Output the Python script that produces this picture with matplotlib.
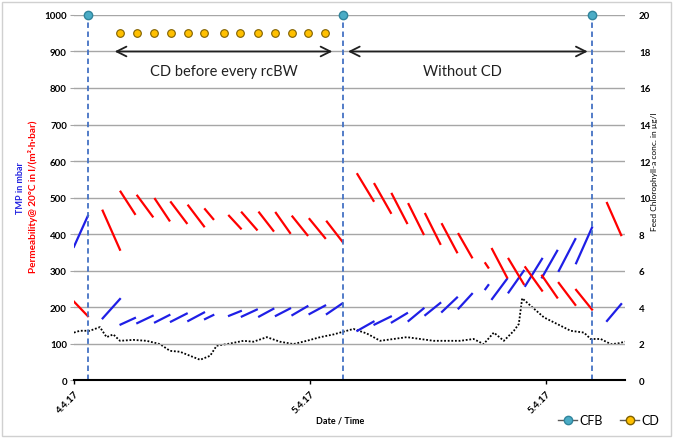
import matplotlib
matplotlib.use("Agg")
import matplotlib.pyplot as plt
from matplotlib.lines import Line2D
from matplotlib.patches import Rectangle

plt.rcParams['font.family'] = ['Lato', 'DejaVu Sans']

# filtration cycles: hours since 4.4.17 00:00, TMP (mbar), permeability
cyc_start = [0.0, 1.46, 2.37, 3.22, 4.12, 4.93, 5.81, 6.66, 7.88, 8.53, 9.41, 10.26, 11.10, 11.97, 12.85,
             14.40, 15.27, 16.15, 17.00, 17.85, 18.70, 19.54, 20.90, 21.24, 22.08, 22.93, 23.78, 24.63, 25.51,
             27.08]
cyc_end = [0.71, 2.34, 3.10, 4.00, 4.85, 5.73, 6.61, 7.08, 8.48, 9.29, 10.13, 10.98, 11.86, 12.76, 13.64,
           15.22, 16.10, 16.92, 17.76, 18.61, 19.46, 20.22, 21.05, 22.00, 22.85, 23.78, 24.55, 25.47, 26.32,
           27.80]
tmp_start = [365, 169, 152, 156, 158, 160, 162, 167, 176, 174, 174, 176, 178, 181, 181,
             135, 152, 158, 162, 178, 187, 196, 249, 222, 240, 258, 281, 299, 320,
             162]
tmp_end = [450, 222, 170, 176, 178, 182, 185, 178, 189, 193, 195, 196, 202, 204, 210,
           160, 174, 183, 196, 211, 226, 236, 260, 277, 299, 332, 354, 386, 418,
           208]
perm_start = [215, 464, 516, 505, 496, 487, 478, 468, 450, 459, 459, 458, 448, 441, 434,
              564, 537, 510, 482, 455, 427, 400, 320, 359, 332, 309, 286, 266, 247,
              485]
perm_end = [175, 357, 455, 448, 437, 430, 421, 441, 415, 412, 409, 403, 397, 389, 379,
            491, 458, 430, 400, 373, 350, 336, 308, 281, 263, 245, 226, 206, 193,
            397]

# feed chlorophyll-a (ug/l)
chl_t = [0.0, 0.31, 0.81, 1.32, 1.66, 2.0, 2.34, 3.02, 3.69, 4.37, 4.88, 5.39, 5.9, 6.41, 6.92, 7.25,
         7.93, 8.61, 9.12, 9.8, 10.47, 11.15, 11.83, 12.51, 13.19, 13.52, 14.2, 14.88, 15.56, 16.24,
         16.91, 17.59, 18.27, 18.95, 19.63, 20.3, 20.81, 21.33, 21.84, 22.35, 22.6, 22.77, 23.2, 23.88,
         24.55, 25.23, 25.91, 26.25, 26.76, 27.27, 27.61, 28.0]
chl_v = [2.6, 2.7, 2.7, 2.9, 2.35, 2.5, 2.15, 2.2, 2.15, 1.97, 1.6, 1.55, 1.33, 1.11, 1.33, 1.88,
         2.0, 2.15, 2.1, 2.35, 2.1, 1.97, 2.15, 2.35, 2.5, 2.6, 2.8, 2.55, 2.15, 2.25,
         2.35, 2.25, 2.15, 2.15, 2.15, 2.25, 1.97, 2.6, 2.15, 2.7, 3.07, 4.48, 4.07, 3.43,
         3.07, 2.7, 2.6, 2.25, 2.25, 1.97, 2.0, 2.1]

cfb_t = [0.71, 13.68, 26.34]
cd_t = [2.34, 3.22, 4.08, 4.93, 5.78, 6.63, 7.61, 8.46, 9.34, 10.22, 11.07, 11.91, 12.76]

tick_pos = [0, 12, 24]
tick_lab = ['4.4.17', '5.4.17', '5.4.17']

fig = plt.figure(figsize=(6.78, 4.39), dpi=100)
fig.patches.append(Rectangle((0.003, 0.004), 0.987, 0.99, transform=fig.transFigure,
                             fill=False, edgecolor='#D0D0D0', lw=1))
ax = fig.add_axes([0.109, 0.132, 0.813, 0.8316])
ax2 = ax.twinx()
ax.set_zorder(ax2.get_zorder() + 1)
ax.patch.set_visible(False)

ax.set_xlim(0, 28.0)
ax.set_ylim(0, 1000)
ax2.set_ylim(0, 20)
ax.set_yticks(range(0, 1001, 100))
ax2.set_yticks(range(0, 21, 2))
ax.grid(axis='y', color='#A6A6A6', lw=1)
ax.set_axisbelow(True)

for s in ['top', 'left', 'right']:
    ax.spines[s].set_visible(False)
    ax2.spines[s].set_visible(False)
ax2.spines['bottom'].set_visible(False)
ax.spines['bottom'].set_linewidth(1.5)

ax.tick_params(axis='y', length=3, color='#A6A6A6', labelsize=7, pad=2)
ax2.tick_params(axis='y', length=0, labelsize=7, pad=10)
for lab in ax.get_yticklabels() + ax2.get_yticklabels():
    lab.set_fontweight('bold')

ax.set_xticks(tick_pos)
ax.set_xticklabels(tick_lab, rotation=45, ha='right', rotation_mode='anchor',
                   fontsize=7, fontweight='bold')
ax.tick_params(axis='x', length=3, width=1, pad=3)

# chlorophyll
ax2.plot(chl_t, chl_v, color='black', lw=1.3, ls=(0, (1, 1)))

# TMP and permeability cycles
for i in range(len(cyc_start)):
    ax.plot([cyc_start[i], cyc_end[i]], [tmp_start[i], tmp_end[i]], color='#1F1FE6', lw=1.6)
    ax.plot([cyc_start[i], cyc_end[i]], [perm_start[i], perm_end[i]], color='#FF0000', lw=1.6)

# CFB and CD events
for t in cfb_t:
    ax.plot([t, t], [0, 1000], color='#4472C4', lw=1.3, ls=(0, (3, 2)))
ax.plot(cfb_t, [1000] * len(cfb_t), 'o', color='#4BACC6', mec='#31859C', ms=6, clip_on=False)
ax.plot(cd_t, [950] * len(cd_t), 'o', color='#FFC000', mec='#7F6000', mew=0.8, ms=5.5)

ax.annotate('', xy=(1.93, 900), xytext=(13.27, 900),
            arrowprops=dict(arrowstyle='<->,head_length=0.7,head_width=0.35', color='#202020', lw=1.3))
ax.annotate('', xy=(13.78, 900), xytext=(26.24, 900),
            arrowprops=dict(arrowstyle='<->,head_length=0.7,head_width=0.35', color='#202020', lw=1.3))
ax.text(7.63, 847, 'CD before every rcBW', ha='center', va='center', fontsize=10.5, color='#202020')
ax.text(19.75, 847, 'Without CD', ha='center', va='center', fontsize=10.5, color='#202020')

fig.text(0.030, 0.572, 'TMP in mbar', rotation=90, ha='center', va='center',
         color='#2020E0', fontsize=6.5, fontweight='bold')
fig.text(0.048, 0.551, 'Permeability@ 20°C in l/(m²·h·bar)', rotation=90, ha='center', va='center',
         color='#FF0000', fontsize=7.2, fontweight='bold')
fig.text(0.966, 0.608, 'Feed Chlorophyll-a conc. in µg/l', rotation=90, ha='center', va='center',
         fontsize=6)
fig.text(0.502, 0.04, 'Date / Time', ha='center', va='center', fontsize=6.5, fontweight='bold')

handles = [Line2D([], [], color='#595959', lw=1, marker='o', mfc='#4BACC6', mec='#31859C', ms=6),
           Line2D([], [], color='#595959', lw=1, marker='o', mfc='#FFC000', mec='#7F6000', ms=6)]
fig.legend(handles, ['CFB', 'CD'], loc='center', bbox_to_anchor=(0.898, 0.04), ncol=2, frameon=False,
           fontsize=9, handlelength=1.5, handletextpad=0.2, columnspacing=1.4)

plt.savefig('out.png', dpi=100)
